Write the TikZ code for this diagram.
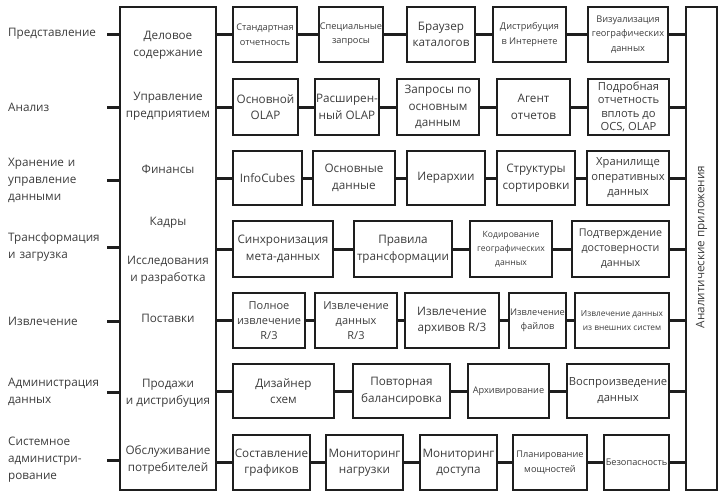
\documentclass[tikz,border=0pt]{standalone}
\usepackage{fontspec}
\setmainfont{Open Sans}
\usepackage{tikz}
\definecolor{ink}{HTML}{3C3C3C}
\definecolor{edge}{HTML}{1E1E1E}
\begin{document}
\begin{tikzpicture}[x=1pt, y=-1pt,
	box/.style={draw=edge, line width=1.5pt, align=center, inner sep=1pt, text=ink,
		font=\fontsize{11.7}{16.5}\selectfont},
	tiny/.style={font=\fontsize{9.2}{14.5}\selectfont},
	word/.style={align=center, text=ink, font=\fontsize{11.7}{16.5}\selectfont},
	side/.style={anchor=west, text width=99pt, inner sep=0pt, align=left, text=ink,
		font=\fontsize{11.7}{17}\selectfont},
	conn/.style={draw=edge, line width=3pt}]
\useasboundingbox (0,0) rectangle (727,499);
% two tall columns
\path (168,248.5) node [box, minimum width=96, minimum height=483] (lb) {}
		(701.5,248.5) node [box, minimum width=31, minimum height=483] (rb) {}
		(701.5,247) node [word, rotate=90] (rbt) {Аналитические приложения}
		;
% areas in the left column
\path (168,45) node [word] (bus) {Деловое\\содержание}
		(168,106) node [word] (ent) {Управление\\предприятием}
		(168,169) node [word] (fin) {Финансы}
		(168,223) node [word] (hr) {Кадры}
		(168,270) node [word] (rd) {Исследования\\и разработка}
		(168,318) node [word] (sup) {Поставки}
		(168,393) node [word] (sal) {Продажи\\и дистрибуция}
		(168,460) node [word] (srv) {Обслуживание\\потребителей}
		;
% layers on the left
\path (8,34) node [side] (l1) {Представление}
		(8,107) node [side] (l2) {Анализ}
		(8,180) node [side] (l3) {Хранение и\\управление\\данными}
		(8,247) node [side] (l4) {Трансформация\\и загрузка}
		(8,321) node [side] (l5) {Извлечение}
		(8,392) node [side] (l6) {Администрация\\данных}
		(8,460) node [side] (l7) {Системное\\администри-\\рование}
		;
% row 1
\path (265,34.5) node [box, tiny, minimum width=64, minimum height=55] (r1a) {Стандартная\\отчетность}
		(351,34.5) node [box, tiny, minimum width=64, minimum height=55] (r1b) {Специальные\\запросы}
		(441,34.5) node [box, minimum width=68, minimum height=55] (r1c) {Браузер\\каталогов}
		(529.5,34.5) node [box, tiny, minimum width=73, minimum height=55] (r1d) {Дистрибуция\\в Интернете}
		(628,34.5) node [box, tiny, minimum width=80, minimum height=55] (r1e) {Визуализация\\географических\\данных}
		;
% row 2
\path (265.5,107) node [box, minimum width=65, minimum height=56] (r2a) {Основной\\OLAP}
		(347,107) node [box, minimum width=64, minimum height=56] (r2b) {Расширен-\\ный OLAP}
		(438,107) node [box, minimum width=82, minimum height=56] (r2c) {Запросы по\\основным\\данным}
		(533.5,107) node [box, minimum width=73, minimum height=56] (r2d) {Агент\\отчетов}
		(628.5,107) node [box, minimum width=81, minimum height=56, font=\fontsize{11.2}{13.2}\selectfont] (r2e) {Подробная\\отчетность\\вплоть до\\OCS, OLAP}
		;
% row 3
\path (267.5,178) node [box, minimum width=69, minimum height=54] (r3a) {InfoCubes}
		(354,178) node [box, minimum width=82, minimum height=54] (r3b) {Основные\\данные}
		(446,178) node [box, minimum width=78, minimum height=54] (r3c) {Иерархии}
		(536,178) node [box, minimum width=78, minimum height=54] (r3d) {Структуры\\сортировки}
		(628,178) node [box, minimum width=82, minimum height=54, font=\fontsize{11.2}{15}\selectfont] (r3e) {Хранилище\\оперативных\\данных}
		;
% row 4
\path (283,249) node [box, minimum width=100, minimum height=56] (r4a) {Синхронизация\\мета-данных}
		(403,249) node [box, minimum width=98, minimum height=56] (r4b) {Правила\\трансформации}
		(511,249) node [box, font=\fontsize{8.6}{14}\selectfont, minimum width=82, minimum height=56] (r4c) {Кодирование\\географических\\данных}
		(620.5,249) node [box, font=\fontsize{10.7}{15}\selectfont, minimum width=97, minimum height=56] (r4d) {Подтверждение\\достоверности\\данных}
		;
% row 5
\path (269,320.5) node [box, font=\fontsize{11}{15}\selectfont, minimum width=72, minimum height=55] (r5a) {Полное\\извлечение\\R/3}
		(356,320.5) node [box, font=\fontsize{11}{15}\selectfont, minimum width=82, minimum height=55] (r5b) {Извлечение\\данных\\R/3}
		(452,320.5) node [box, minimum width=94, minimum height=55] (r5c) {Извлечение\\архивов R/3}
		(537.5,320.5) node [box, tiny, minimum width=57, minimum height=55] (r5d) {Извлечение\\файлов}
		(622,320.5) node [box, font=\fontsize{8.3}{14}\selectfont, minimum width=94, minimum height=55] (r5e) {Извлечение данных\\из внешних систем}
		;
% row 6
\path (283.5,391) node [box, minimum width=101, minimum height=54] (r6a) {Дизайнер\\схем}
		(401.5,391) node [box, minimum width=97, minimum height=54] (r6b) {Повторная\\балансировка}
		(508.5,391) node [box, tiny, minimum width=81, minimum height=54] (r6c) {Архивирование}
		(618,391) node [box, font=\fontsize{11.2}{16}\selectfont, minimum width=102, minimum height=54] (r6d) {Воспроизведение\\данных}
		;
% row 7
\path (271.5,462.5) node [box, minimum width=77, minimum height=55] (r7a) {Составление\\графиков}
		(364.5,462.5) node [box, minimum width=77, minimum height=55] (r7b) {Мониторинг\\нагрузки}
		(458.5,462.5) node [box, minimum width=77, minimum height=55] (r7c) {Мониторинг\\доступа}
		(550,462.5) node [box, tiny, minimum width=74, minimum height=55] (r7d) {Планирование\\мощностей}
		(636.5,462.5) node [box, tiny, minimum width=65, minimum height=55] (r7e) {Безопасность}
		;
% stubs from the layer names
\draw [conn] (l1.east) -- (l1.east -| lb.west);
\draw [conn] (l2.east) -- (l2.east -| lb.west);
\draw [conn] (l3.east) -- (l3.east -| lb.west);
\draw [conn] (l4.east) -- (l4.east -| lb.west);
\draw [conn] (l5.east) -- (l5.east -| lb.west);
\draw [conn] (l6.east) -- (l6.east -| lb.west);
\draw [conn] (l7.east) -- (l7.east -| lb.west);
% row 1 links
\draw [conn] (r1a -| lb.east) -- (node cs:name=r1a);
\draw [conn] (node cs:name=r1a) -- (node cs:name=r1b);
\draw [conn] (node cs:name=r1b) -- (node cs:name=r1c);
\draw [conn] (node cs:name=r1c) -- (node cs:name=r1d);
\draw [conn] (node cs:name=r1d) -- (node cs:name=r1e);
\draw [conn] (node cs:name=r1e) -- (r1e -| rb.west);
% row 2 links
\draw [conn] (r2a -| lb.east) -- (node cs:name=r2a);
\draw [conn] (node cs:name=r2a) -- (node cs:name=r2b);
\draw [conn] (node cs:name=r2b) -- (node cs:name=r2c);
\draw [conn] (node cs:name=r2c) -- (node cs:name=r2d);
\draw [conn] (node cs:name=r2d) -- (node cs:name=r2e);
\draw [conn] (node cs:name=r2e) -- (r2e -| rb.west);
% row 3 links
\draw [conn] (r3a -| lb.east) -- (node cs:name=r3a);
\draw [conn] (node cs:name=r3a) -- (node cs:name=r3b);
\draw [conn] (node cs:name=r3b) -- (node cs:name=r3c);
\draw [conn] (node cs:name=r3c) -- (node cs:name=r3d);
\draw [conn] (node cs:name=r3d) -- (node cs:name=r3e);
\draw [conn] (node cs:name=r3e) -- (r3e -| rb.west);
% row 4 links
\draw [conn] (r4a -| lb.east) -- (node cs:name=r4a);
\draw [conn] (node cs:name=r4a) -- (node cs:name=r4b);
\draw [conn] (node cs:name=r4b) -- (node cs:name=r4c);
\draw [conn] (node cs:name=r4c) -- (node cs:name=r4d);
\draw [conn] (node cs:name=r4d) -- (r4d -| rb.west);
% row 5 links
\draw [conn] (r5a -| lb.east) -- (node cs:name=r5a);
\draw [conn] (node cs:name=r5a) -- (node cs:name=r5b);
\draw [conn] (node cs:name=r5b) -- (node cs:name=r5c);
\draw [conn] (node cs:name=r5c) -- (node cs:name=r5d);
\draw [conn] (node cs:name=r5d) -- (node cs:name=r5e);
\draw [conn] (node cs:name=r5e) -- (r5e -| rb.west);
% row 6 links
\draw [conn] (r6a -| lb.east) -- (node cs:name=r6a);
\draw [conn] (node cs:name=r6a) -- (node cs:name=r6b);
\draw [conn] (node cs:name=r6b) -- (node cs:name=r6c);
\draw [conn] (node cs:name=r6c) -- (node cs:name=r6d);
\draw [conn] (node cs:name=r6d) -- (r6d -| rb.west);
% row 7 links
\draw [conn] (r7a -| lb.east) -- (node cs:name=r7a);
\draw [conn] (node cs:name=r7a) -- (node cs:name=r7b);
\draw [conn] (node cs:name=r7b) -- (node cs:name=r7c);
\draw [conn] (node cs:name=r7c) -- (node cs:name=r7d);
\draw [conn] (node cs:name=r7d) -- (node cs:name=r7e);
\draw [conn] (node cs:name=r7e) -- (r7e -| rb.west);
\end{tikzpicture}
\end{document}
